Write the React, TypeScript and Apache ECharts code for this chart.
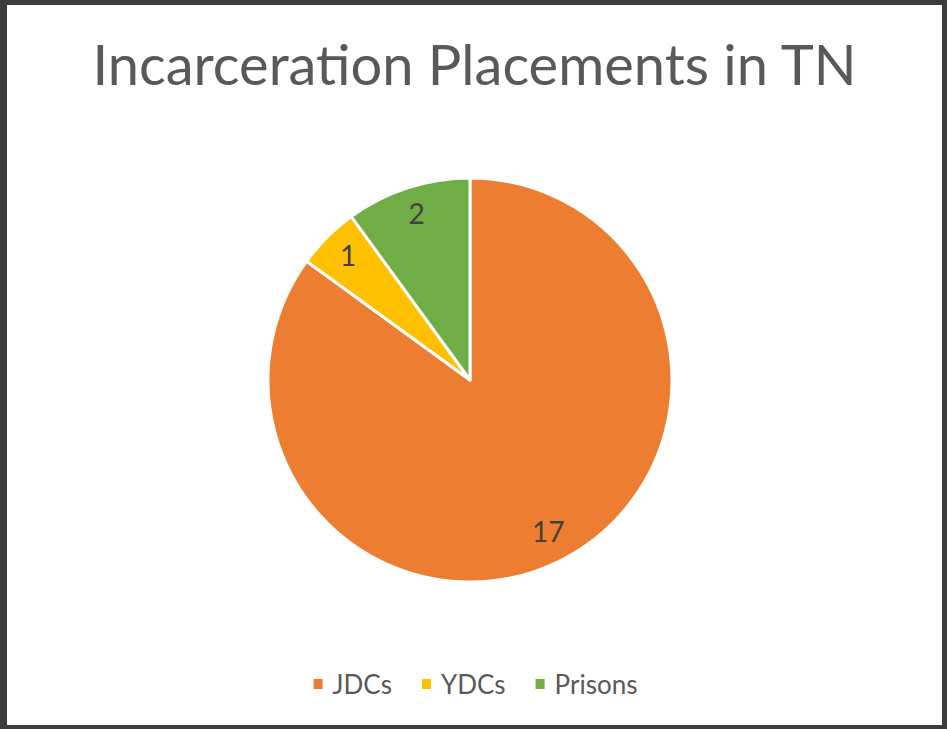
import React, { useEffect, useRef } from "react";
import * as echarts from "echarts";

const categories = ["JDCs", "YDCs", "Prisons"];
const values = [17, 1, 2];
const colors = ["#ED7D31", "#FFC000", "#70AD47"];
const titleText = "Incarceration Placements in TN";

export default function App() {
  const ref = useRef<HTMLDivElement>(null);
  useEffect(() => {
    if (!ref.current) return;
    const chart = echarts.init(ref.current, undefined, { renderer: "svg" });
    const data = categories.map((c, i) => ({ name: c, value: values[i] }));
    chart.setOption({
      animation: false,
      color: colors,
      title: {
        text: titleText,
        left: "center",
        top: 25,
        textStyle: {
          fontFamily: "Lato",
          fontSize: 56,
          fontWeight: "normal",
          color: "#595959",
        },
      },
      legend: {
        bottom: 23,
        left: "center",
        icon: "rect",
        itemWidth: 11,
        itemHeight: 12,
        itemGap: 28,
        data: categories,
        textStyle: {
          fontFamily: "Lato",
          fontSize: 26,
          color: "#595959",
          padding: [0, 0, 0, 4],
        },
      },
      series: [
        {
          type: "pie",
          center: [463, 375],
          radius: [0, 202],
          startAngle: 90,
          clockwise: true,
          silent: true,
          itemStyle: { borderColor: "#ffffff", borderWidth: 3 },
          label: { show: false },
          labelLine: { show: false },
          data,
        },
        {
          type: "pie",
          center: [463, 372],
          radius: [137, 202],
          startAngle: 90,
          clockwise: true,
          silent: true,
          itemStyle: { color: "transparent", borderWidth: 0 },
          label: {
            show: true,
            position: "inside",
            formatter: "{c}",
            fontFamily: "Lato",
            fontSize: 28,
            color: "#404040",
          },
          labelLine: { show: false },
          data,
        },
      ],
    });
    return () => chart.dispose();
  }, []);
  return (
    <div
      style={{
        position: "fixed",
        left: 0,
        top: 0,
        width: 947,
        height: 729,
        background: "#3b3c3e",
      }}
    >
      <div
        ref={ref}
        style={{
          position: "absolute",
          left: 7,
          top: 5,
          width: 935,
          height: 720,
          background: "#ffffff",
        }}
      />
    </div>
  );
}
